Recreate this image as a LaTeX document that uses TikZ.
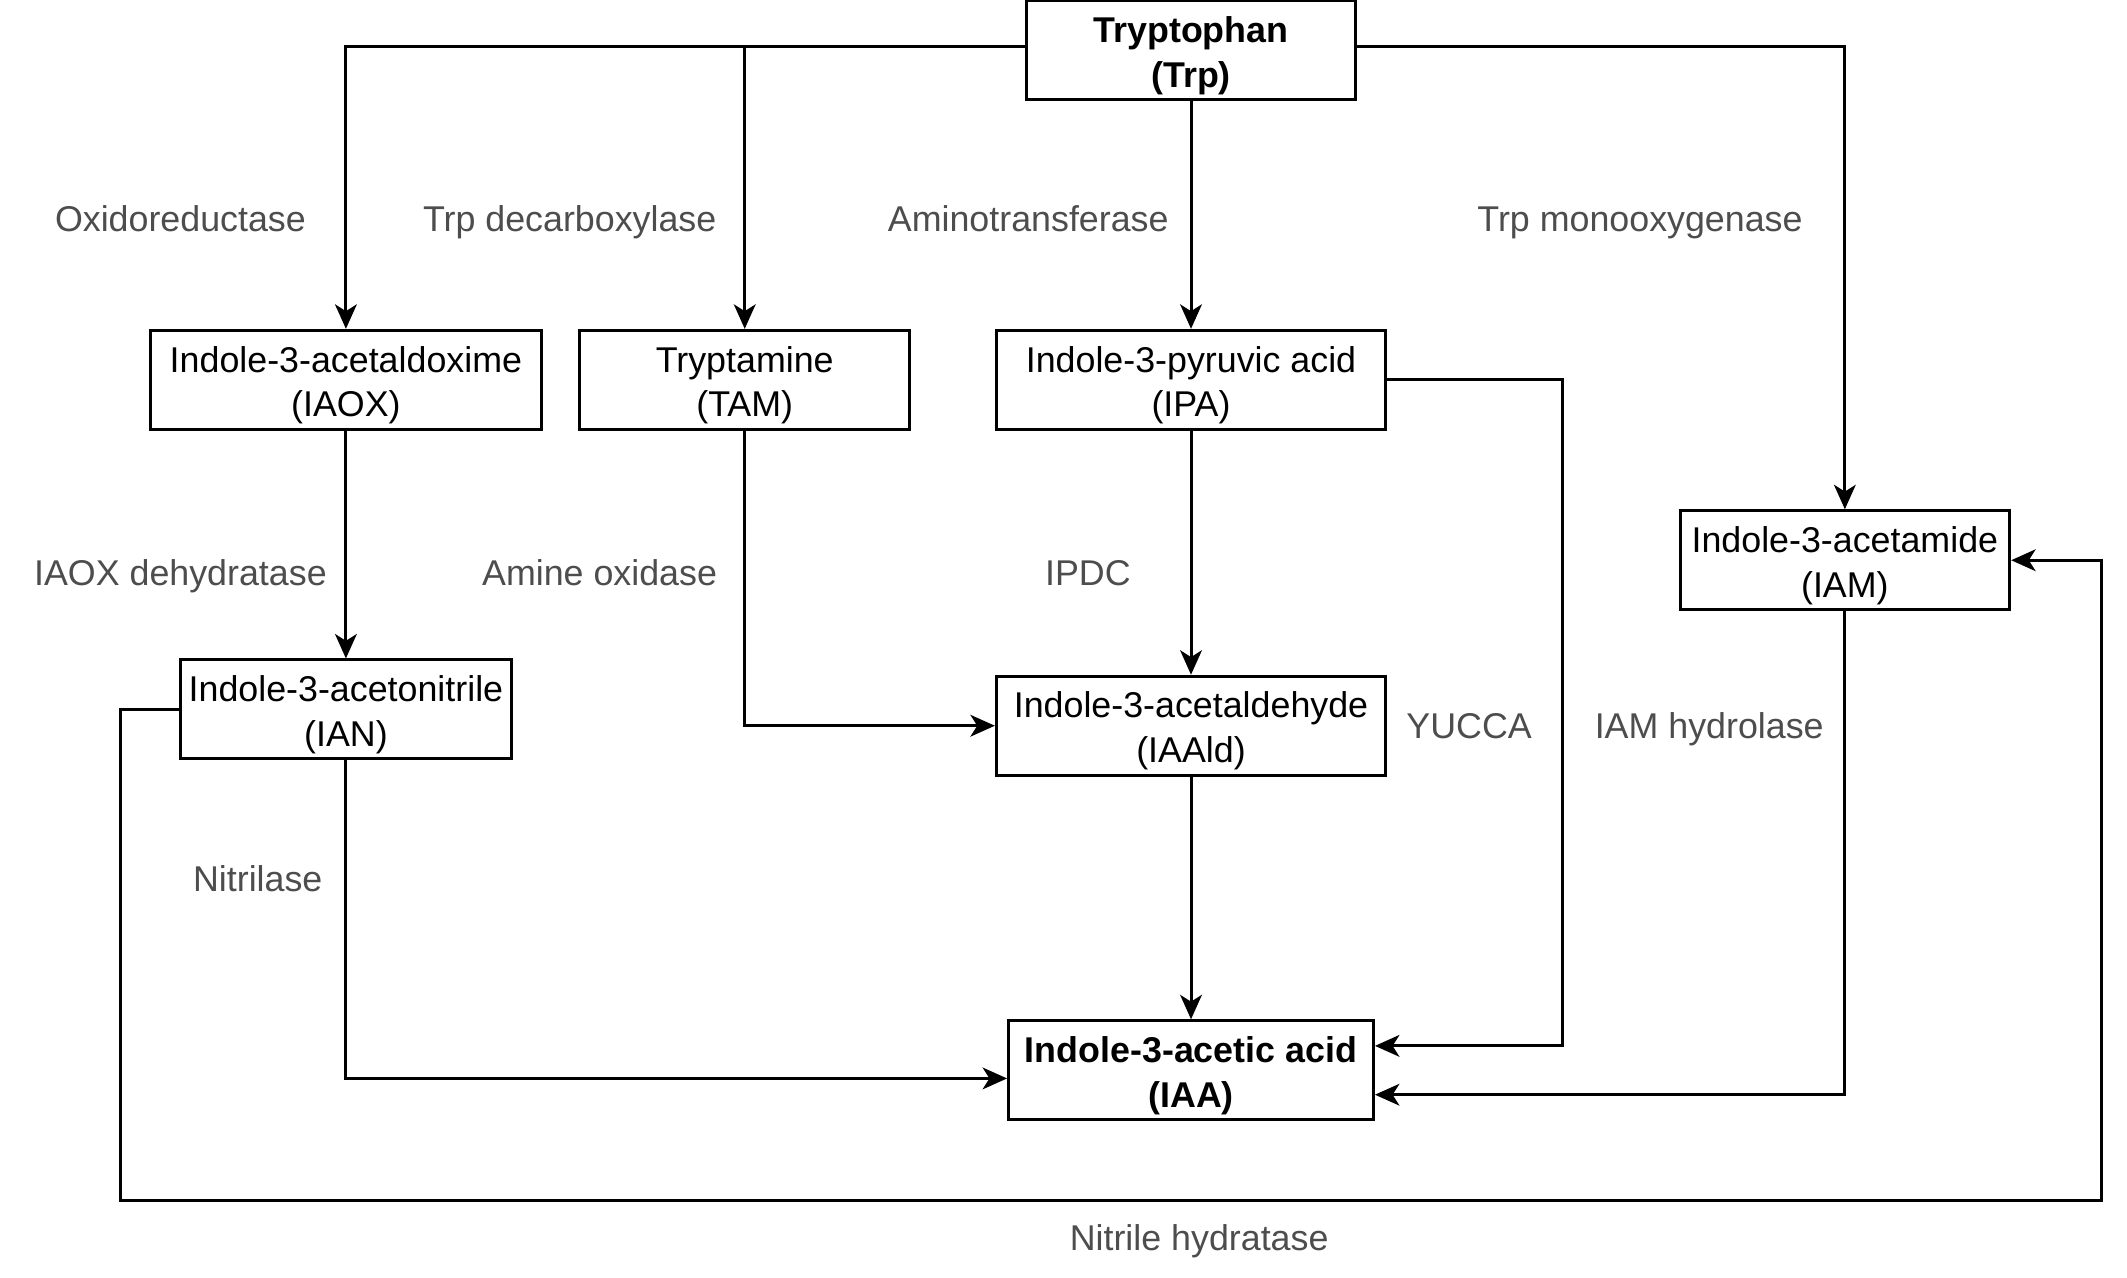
\documentclass[tikz,border=0pt]{standalone}
\usepackage{fontspec}
\setmainfont{Liberation Sans}
\usetikzlibrary{arrows.meta}
\definecolor{enzgray}{RGB}{77,77,77}
\newcommand{\topgap}{\rule{0pt}{13.5pt}}

\begin{document}
\begin{tikzpicture}[x=0.5pt,y=-0.5pt,line width=1.1pt,
  >={Stealth[length=9pt,width=8pt,inset=2.5pt]},
  box/.style={draw,rectangle,inner sep=0pt,align=center,minimum width=#1,minimum height=36.5pt,font=\fontsize{13.2}{16.5}\selectfont},
  enz/.style={text=enzgray,inner sep=0pt,text height=9.5pt,text depth=0pt,font=\fontsize{13.2}{16.5}\selectfont}]
\useasboundingbox (0,0) rectangle (1568,942);

\node[box=121.5pt] (trp) at (878,37) {\topgap\textbf{Tryptophan}\\\textbf{(Trp)}};
\node[box=144pt] (iaox) at (255,280) {\topgap Indole-3-acetaldoxime\\(IAOX)};
\node[box=121.5pt] (tam) at (549,280) {\topgap Tryptamine\\(TAM)};
\node[box=143.5pt] (ipa) at (878,280) {\topgap Indole-3-pyruvic acid\\(IPA)};
\node[box=121.5pt] (iam) at (1360,413) {\topgap Indole-3-acetamide\\(IAM)};
\node[box=122pt] (ian) at (255,523) {\topgap Indole-3-acetonitrile\\(IAN)};
\node[box=143.5pt] (iaald) at (878,535) {\topgap Indole-3-acetaldehyde\\(IAAld)};
\node[box=134.5pt] (iaa) at (878,789) {\topgap\textbf{Indole-3-acetic acid}\\\textbf{(IAA)}};

\node[enz] (oxr) at (133,161) {Oxidoreductase};
\node[enz] (tdc) at (420,161) {Trp decarboxylase};
\node[enz] (amt) at (758,161) {Aminotransferase};
\node[enz] (tmo) at (1209,161) {Trp monooxygenase};
\node[enz] (iaoxd) at (133,422) {IAOX dehydratase};
\node[enz] (amo) at (442,422) {Amine oxidase};
\node[enz] (ipdc) at (802,422) {IPDC};
\node[enz] (yuc) at (1083,535) {YUCCA};
\node[enz] (iamh) at (1260,535) {IAM hydrolase};
\node[enz] (nit) at (190,648) {Nitrilase};
\node[enz] (nhy) at (884,912) {Nitrile hydratase};

\coordinate (nl) at (89,885);
\coordinate (nr) at (1549,885);

\draw[->] ([yshift=1.5pt]trp.west) -| (iaox.north);
\draw[->] ([yshift=1.5pt]trp.west) -| (tam.north);
\draw[->] (trp.south) -- (ipa.north);
\draw[->] ([yshift=1.5pt]trp.east) -| (iam.north);
\draw[->] (iaox.south) -- (ian.north);
\draw[->] (tam.south) |- (iaald.west);
\draw[->] (ipa.south) -- (iaald.north);
\draw[->] (iaald.south) -- (iaa.north);
\draw[->] (ipa.east) -| ([xshift=69pt,yshift=9pt]iaa.east) -- ([yshift=9pt]iaa.east);
\draw[->] (iam.south) |- ([yshift=-9pt]iaa.east);
\draw[->] (ian.south) |- ([yshift=-3pt]iaa.west);
\draw[->] (ian.west) -| (nl) -- (nr) |- (iam.east);
\end{tikzpicture}
\end{document}
